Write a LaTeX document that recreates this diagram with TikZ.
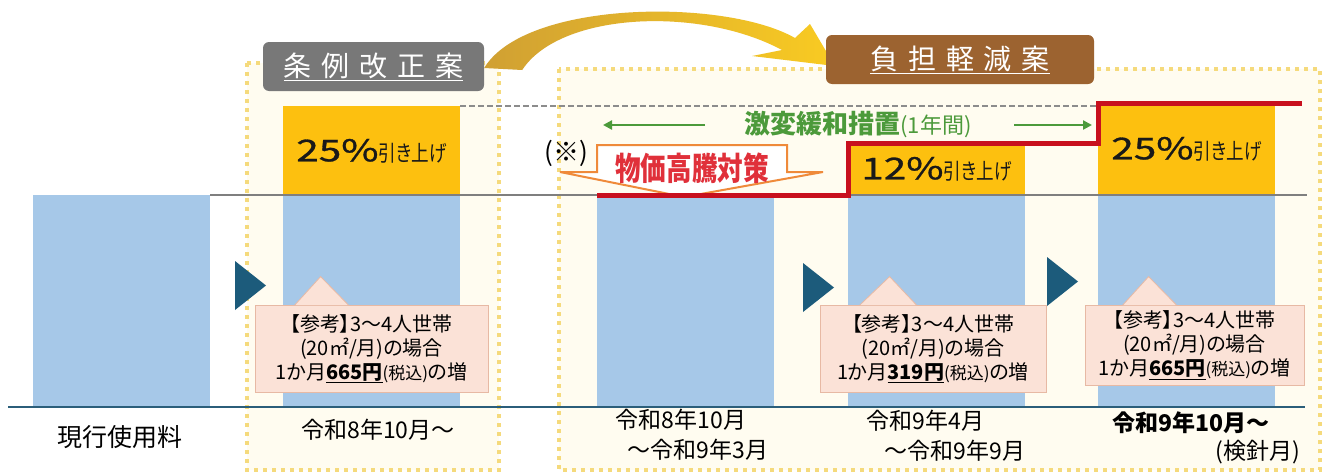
\documentclass[tikz,border=0pt]{standalone}
\usepackage{fontspec}
\setmainfont{Noto Sans CJK JP}[RawFeature=+palt]
\newfontfamily\widefont[FakeStretch=1.35,FakeBold=1]{Noto Sans CJK JP}
\newfontfamily\narrowfont[FakeStretch=0.8,RawFeature=+palt]{Noto Sans CJK JP}
\usetikzlibrary{arrows.meta,positioning}

\definecolor{barblue}{HTML}{A6C8E8}
\definecolor{baryellow}{HTML}{FDC00F}
\definecolor{cream}{HTML}{FFFCF0}
\definecolor{dotyellow}{HTML}{F5DA7C}
\definecolor{levelgray}{HTML}{7F7F7F}
\definecolor{groundblue}{HTML}{2B5E7A}
\definecolor{pricered}{HTML}{C8101E}
\definecolor{actgreen}{HTML}{4C9A3B}
\definecolor{reliefline}{HTML}{EF8A3A}
\definecolor{reliefred}{HTML}{E0303A}
\definecolor{taggray}{HTML}{787878}
\definecolor{tagbrown}{HTML}{9C6330}
\definecolor{memofill}{HTML}{FBE2D7}
\definecolor{memoline}{HTML}{E7B9A4}
\definecolor{markblue}{HTML}{1C5B7B}
\definecolor{swingdark}{HTML}{D0A033}
\definecolor{swinglight}{HTML}{F9CB22}

\pgfdeclarelayer{back}
\pgfdeclarelayer{mid}
\pgfsetlayers{back,mid,main}

\begin{document}
\begin{tikzpicture}[x=1pt,y=-1pt,
    bar/.style={fill=barblue,inner sep=0pt,outer sep=0pt,minimum width=177pt,anchor=south west},
    rise/.style={fill=baryellow,inner sep=0pt,outer sep=0pt,minimum width=177pt,text=black!90},
    dotbox/.style={draw=dotyellow,fill=cream,line width=4pt,dash pattern=on 4pt off 5pt},
    levelline/.style={draw=levelgray,line width=2pt},
    ground/.style={draw=groundblue,line width=2pt},
    price/.style={draw=pricered,line width=5pt},
    tag/.style={rounded corners=6pt,text=white,inner sep=0pt,minimum height=49pt,font=\fontsize{28}{28}\selectfont},
    memo/.style={fill=memofill,draw=memoline,line width=0.8pt,align=center,inner sep=0pt,font=\fontsize{20}{24}\selectfont},
    memotip/.style={fill=memofill,draw=memoline,line width=0.8pt},
    when/.style={font=\fontsize{23}{30}\selectfont},
    act/.style={text=actgreen,font=\fontsize{26}{26}\selectfont\bfseries},
    actarrow/.style={draw=actgreen,line width=2.5pt,-{Triangle[length=9pt,width=9pt]}},
    relief/.style={draw=reliefline,fill=white,line width=2pt},
    marker/.style={fill=markblue}]

   % frames
   \begin{pgfonlayer}{back}
   \fill[white] (0,0) rectangle (1324,474);
   \draw[dotbox] (247,63) rectangle (499,470);
   \draw[dotbox] (559,69) rectangle (1320,470);
   \end{pgfonlayer}
   \useasboundingbox (0,0) rectangle (1324,474);

   % bars
   \node[bar,minimum height=212pt] (b0) at (33,407) {};
   \node[bar,minimum height=211pt] (b1) at (283,407) {};
   \node[bar,minimum height=212pt] (b2) at (597,407) {};
   \node[bar,minimum height=212pt] (b3) at (848,407) {};
   \node[bar,minimum height=212pt] (b4) at (1098,407) {};
   \node[rise,minimum height=90pt,above=0pt of b1] (y1)
      {{\widefont\fontsize{30}{30}\selectfont 25\%}{\narrowfont\fontsize{22}{22}\selectfont 引き上げ}};
   \node[rise,minimum height=52pt,above=0pt of b3] (y3)
      {{\widefont\fontsize{30}{30}\selectfont 12\%}{\narrowfont\fontsize{22}{22}\selectfont 引き上げ}};
   \node[rise,minimum height=92pt,above=0pt of b4] (y4)
      {{\widefont\fontsize{30}{30}\selectfont 25\%}{\narrowfont\fontsize{22}{22}\selectfont 引き上げ}};

   \coordinate (levelend) at (1307,196);
   \draw[levelline] (b0.north east) -- (b0.north east -| levelend);
   \draw[levelgray!90,line width=2pt,dash pattern=on 6pt off 3pt] (y1.north east) -- (y1.north east -| y4.north west);
   \coordinate (g0) at (8,407);
   \coordinate (g1) at (1305,407);
   \draw[ground] (g0) -- (g1);

   % relief
   \draw[relief] (597,145) -- (787,145) -- (787,172) -- (823,172) -- (684,197) -- (560,172) -- (597,172) -- cycle;
   \node[text=reliefred,font=\narrowfont\bfseries\fontsize{32}{32}\selectfont] (relieftxt) at (692,168) {物価高騰対策};
   \draw[price] (b2.north west) -- (y3.south west) -- (y3.north west) -- (y3.north west -| y4.west)
      -- (y4.north west) -- ([xshift=27pt]y4.north east);

   \node[act] (act) at (858,125) {激変緩和措置{\mdseries\fontsize{22}{22}\selectfont(1年間)}};
   \coordinate (actleft) at (603,125);
   \coordinate (actright) at (1092,125);
   \draw[actarrow] (705,125) -- (actleft);
   \draw[actarrow] (1014,125) -- (actright);
   \node[font=\fontsize{26}{26}\selectfont] (note) at (566,153) {(※)};

   \foreach \x/\y in {235/261,803/263,1047/257}
      \fill[marker] (\x,\y) -- ++(31,24.5) -- ++(-31,24.5) -- cycle;

   % memos
   \node[memo,minimum width=233pt,minimum height=87pt] (memo1) at (371.5,348.5)
      {【参考】3～4人世帯\\(20㎡/月)の場合\\1か月\underline{\textbf{665円}}{\fontsize{17}{24}\selectfont(税込)}の増};
   \filldraw[memotip] ([xshift=40pt,yshift=-0.6pt]memo1.north west) -- ([xshift=66pt,yshift=28pt]memo1.north west)
      -- ([xshift=94pt,yshift=-0.6pt]memo1.north west);
   \node[memo,minimum width=226pt,minimum height=87pt] (memo2) at (933,348.5)
      {【参考】3～4人世帯\\(20㎡/月)の場合\\1か月\underline{\textbf{319円}}{\fontsize{17}{24}\selectfont(税込)}の増};
   \filldraw[memotip] ([xshift=40pt,yshift=-0.6pt]memo2.north west) -- ([xshift=70pt,yshift=28pt]memo2.north west)
      -- ([xshift=97pt,yshift=-0.6pt]memo2.north west);
   \node[memo,minimum width=219pt,minimum height=80pt] (memo3) at (1194.5,345)
      {【参考】3～4人世帯\\(20㎡/月)の場合\\1か月\underline{\textbf{665円}}{\fontsize{17}{24}\selectfont(税込)}の増};
   \filldraw[memotip] ([xshift=38pt,yshift=-0.6pt]memo3.north west) -- ([xshift=64pt,yshift=28pt]memo3.north west)
      -- ([xshift=92pt,yshift=-0.6pt]memo3.north west);

   % periods
   \node[when,font=\fontsize{25}{30}\selectfont] (t0) at (120,437) {現行使用料};
   \node[when] (t1) at (378,430) {令和8年10月～};
   \node[when,align=left] (t2) at (692,435) {令和8年10月\\\hspace*{0.5em}～令和9年3月};
   \node[when,align=left] (t3) at (946,436) {令和9年4月\\\hspace*{0.8em}～令和9年9月};
   \node[when,font=\fontsize{23}{30}\selectfont\bfseries] (t4) at (1191,423) {令和9年10月～};
   \node[when] (t5) at (1258,452) {(検針月)};

   % tags
   \node[tag,fill=taggray,minimum width=221pt] (tag1) at (373.5,66.5)
      {\underline{条\hspace{.35em}例\hspace{.35em}改\hspace{.35em}正\hspace{.35em}案}};
   \node[tag,fill=tagbrown,minimum width=268pt] (tag2) at (960,59.5)
      {\underline{負\hspace{.35em}担\hspace{.35em}軽\hspace{.35em}減\hspace{.35em}案}};
   \begin{pgfonlayer}{mid}
   \shade[left color=swingdark,right color=swinglight]
      ([yshift=-1.5pt]tag1.east) .. controls (525,0) and (725,-2) .. (795,38)
      -- (810,24) -- ([xshift=9pt,yshift=-6.5pt]tag2.west) -- (752,56) -- (782,50)
      .. controls (700,6) and (560,12) .. ([xshift=38pt,yshift=-3.5pt]tag1.east) -- cycle;
   \end{pgfonlayer}
\end{tikzpicture}
\end{document}
